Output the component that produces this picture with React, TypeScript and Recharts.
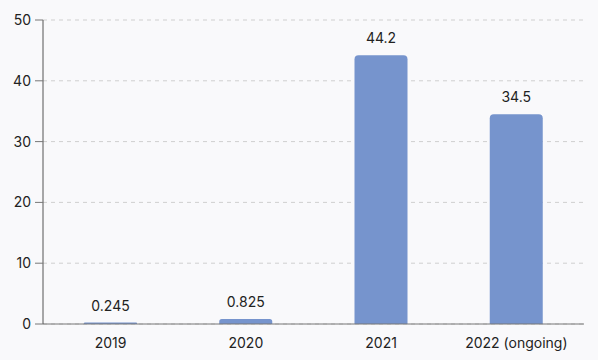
import React from "react";
import { BarChart, Bar, XAxis, YAxis, CartesianGrid, LabelList } from "recharts";

const categories = ["2019", "2020", "2021", "2022 (ongoing)"];
const values = [0.245, 0.825, 44.2, 34.5];
const yTicks = [0, 10, 20, 30, 40, 50];

const data = categories.map((c, i) => ({ name: c, value: values[i] }));

export default function App() {
  return (
    <div style={{ position: "absolute", left: 0, top: 0, width: 598, height: 360, background: "#f9f9fb" }}>
      <BarChart
        width={598}
        height={360}
        data={data}
        margin={{ top: 20, right: 14, bottom: 6, left: 0 }}
        style={{ fontFamily: "Inter, sans-serif" }}
      >
        <CartesianGrid vertical={false} stroke="#cfcfcf" strokeDasharray="4 4" />
        <XAxis
          dataKey="name"
          tickLine={false}
          axisLine={{ stroke: "#777" }}
          tick={{ fill: "#222", fontSize: 14 }}
          height={30}
          tickMargin={8}
        />
        <YAxis
          domain={[0, 50]}
          ticks={yTicks}
          width={43}
          axisLine={{ stroke: "#555" }}
          tickLine={{ stroke: "#777" }}
          tickSize={8}
          tickMargin={4}
          tick={{ fill: "#222", fontSize: 14 }}
        />
        <Bar dataKey="value" fill="#7694cd" barSize={53} radius={[4, 4, 0, 0]} isAnimationActive={false}>
          <LabelList dataKey="value" position="top" offset={12} fill="#222" fontSize={14} />
        </Bar>
      </BarChart>
    </div>
  );
}
